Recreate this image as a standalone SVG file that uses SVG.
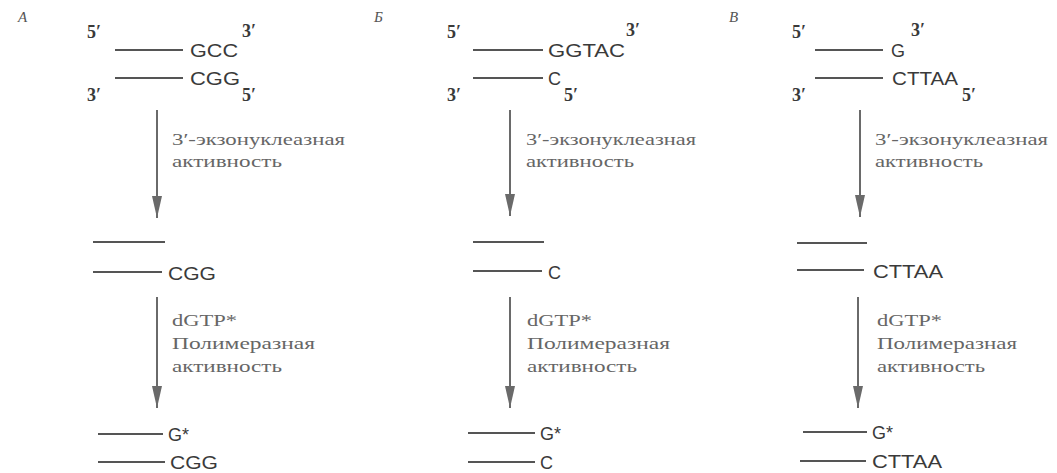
<svg xmlns="http://www.w3.org/2000/svg" width="1057" height="473" viewBox="0 0 1057 473">
<style>
.dna{font-family:"Liberation Sans",Arial,sans-serif;font-size:18px;fill:#3a3a3a}
.pr{font-family:"Liberation Serif","Times New Roman",serif;font-size:18px;font-weight:bold;fill:#3a3a3a}
.lbl{font-family:"Liberation Serif","Times New Roman",serif;font-size:17px;fill:#666}
.pl{font-family:"Liberation Serif","Times New Roman",serif;font-size:15px;font-style:italic;fill:#555}
.s{stroke:#555;stroke-width:2;fill:none}
.ar{stroke:#6a6a6a;stroke-width:2;fill:none;marker-end:url(#ah)}
</style>
<defs>
<marker id="ah" viewBox="0 0 22 10" markerWidth="22" markerHeight="10" refX="22" refY="5" orient="auto" markerUnits="userSpaceOnUse">
<path d="M0,0 L22,5 L0,10 z" fill="#6a6a6a"/>
</marker>
</defs>
<rect width="1057" height="473" fill="#fff"/>

<g id="panelA">
<text class="pl" x="18" y="22">A</text>
<g id="A-start">
<text class="pr" x="87" y="38">5′</text>
<line class="s" x1="115" y1="50" x2="183" y2="50"/>
<text class="dna" x="190" y="57" textLength="48" lengthAdjust="spacingAndGlyphs">GCC</text>
<text class="pr" x="242" y="37">3′</text>
<line class="s" x1="115" y1="78" x2="183" y2="78"/>
<text class="dna" x="190" y="85" textLength="50" lengthAdjust="spacingAndGlyphs">CGG</text>
<text class="pr" x="87" y="101">3′</text>
<text class="pr" x="242" y="101">5′</text>
</g>
<g id="A-exo">
<line class="s" x1="93" y1="242" x2="165" y2="242"/>
<line class="s" x1="93" y1="272" x2="162" y2="272"/>
<text class="dna" x="168" y="280" textLength="48" lengthAdjust="spacingAndGlyphs">CGG</text>
</g>
<g id="A-pol">
<line class="s" x1="98" y1="434" x2="163" y2="434"/>
<text class="dna" x="168" y="441">G*</text>
<line class="s" x1="98" y1="462" x2="165" y2="462"/>
<text class="dna" x="170" y="469" textLength="48" lengthAdjust="spacingAndGlyphs">CGG</text>
</g>
<text class="lbl" x="172" y="145" textLength="173" lengthAdjust="spacingAndGlyphs">3′-экзонуклеазная</text>
<text class="lbl" x="172" y="167" textLength="110" lengthAdjust="spacingAndGlyphs">активность</text>
<text class="lbl" x="172" y="326" textLength="65" lengthAdjust="spacingAndGlyphs">dGTP*</text>
<text class="lbl" x="172" y="349" textLength="143" lengthAdjust="spacingAndGlyphs">Полимеразная</text>
<text class="lbl" x="172" y="372" textLength="110" lengthAdjust="spacingAndGlyphs">активность</text>
</g>

<g id="panelB">
<text class="pl" x="374" y="22">Б</text>
<g id="B-start">
<text class="pr" x="447" y="38">5′</text>
<line class="s" x1="473" y1="50" x2="543" y2="50"/>
<text class="dna" x="548" y="57" textLength="77" lengthAdjust="spacingAndGlyphs">GGTAC</text>
<text class="pr" x="626" y="36">3′</text>
<line class="s" x1="473" y1="78" x2="543" y2="78"/>
<text class="dna" x="548" y="85">C</text>
<text class="pr" x="447" y="101">3′</text>
<text class="pr" x="564" y="101">5′</text>
</g>
<g id="B-exo">
<line class="s" x1="473" y1="242" x2="544" y2="242"/>
<line class="s" x1="473" y1="271" x2="542" y2="271"/>
<text class="dna" x="548" y="279">C</text>
</g>
<g id="B-pol">
<line class="s" x1="468" y1="433" x2="535" y2="433"/>
<text class="dna" x="540" y="440">G*</text>
<line class="s" x1="468" y1="462" x2="535" y2="462"/>
<text class="dna" x="540" y="469">C</text>
</g>
<text class="lbl" x="526" y="145" textLength="170" lengthAdjust="spacingAndGlyphs">3′-экзонуклеазная</text>
<text class="lbl" x="526" y="167" textLength="108" lengthAdjust="spacingAndGlyphs">активность</text>
<text class="lbl" x="527" y="326" textLength="65" lengthAdjust="spacingAndGlyphs">dGTP*</text>
<text class="lbl" x="527" y="349" textLength="143" lengthAdjust="spacingAndGlyphs">Полимеразная</text>
<text class="lbl" x="527" y="372" textLength="110" lengthAdjust="spacingAndGlyphs">активность</text>
</g>

<g id="panelC">
<text class="pl" x="729" y="22">В</text>
<g id="C-start">
<text class="pr" x="792" y="38">5′</text>
<line class="s" x1="815" y1="50" x2="883" y2="50"/>
<text class="dna" x="891" y="57">G</text>
<text class="pr" x="911" y="36">3′</text>
<line class="s" x1="815" y1="78" x2="883" y2="78"/>
<text class="dna" x="892" y="85" textLength="66" lengthAdjust="spacingAndGlyphs">CTTAA</text>
<text class="pr" x="792" y="101">3′</text>
<text class="pr" x="962" y="101">5′</text>
</g>
<g id="C-exo">
<line class="s" x1="797" y1="243" x2="867" y2="243"/>
<line class="s" x1="797" y1="270" x2="864" y2="270"/>
<text class="dna" x="873" y="278" textLength="70" lengthAdjust="spacingAndGlyphs">CTTAA</text>
</g>
<g id="C-pol">
<line class="s" x1="803" y1="432" x2="867" y2="432"/>
<text class="dna" x="872" y="439">G*</text>
<line class="s" x1="800" y1="461" x2="866" y2="461"/>
<text class="dna" x="872" y="468" textLength="70" lengthAdjust="spacingAndGlyphs">CTTAA</text>
</g>
<text class="lbl" x="875" y="145" textLength="173" lengthAdjust="spacingAndGlyphs">3′-экзонуклеазная</text>
<text class="lbl" x="875" y="167" textLength="108" lengthAdjust="spacingAndGlyphs">активность</text>
<text class="lbl" x="877" y="326" textLength="65" lengthAdjust="spacingAndGlyphs">dGTP*</text>
<text class="lbl" x="877" y="349" textLength="140" lengthAdjust="spacingAndGlyphs">Полимеразная</text>
<text class="lbl" x="877" y="372" textLength="108" lengthAdjust="spacingAndGlyphs">активность</text>
</g>

<g id="connectors">
<line class="ar" x1="157" y1="110" x2="157" y2="218"/>
<line class="ar" x1="157" y1="297" x2="157" y2="408"/>
<line class="ar" x1="510" y1="110" x2="510" y2="216"/>
<line class="ar" x1="510" y1="297" x2="510" y2="408"/>
<line class="ar" x1="860" y1="110" x2="860" y2="217"/>
<line class="ar" x1="858" y1="297" x2="858" y2="408"/>
</g>
</svg>
